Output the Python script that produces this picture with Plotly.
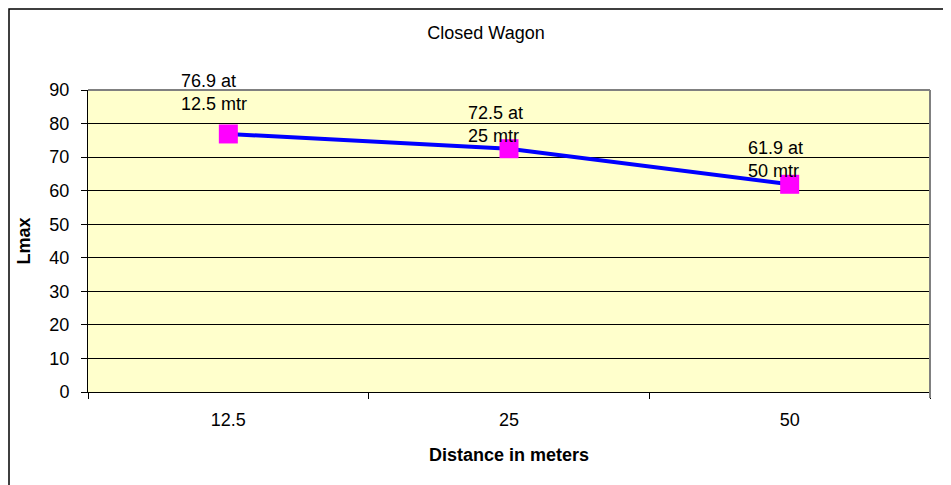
import plotly.graph_objects as go

distances = ["12.5", "25", "50"]
lmax = [76.9, 72.5, 61.9]
point_labels = ["76.9 at<br>12.5 mtr", "72.5 at<br>25 mtr", "61.9 at<br>50 mtr"]
y_ticks = [0, 10, 20, 30, 40, 50, 60, 70, 80, 90]

FONT = "Liberation Sans, Arial, sans-serif"
FS = 18

fig = go.Figure(
    data=[go.Scatter(
        x=distances,
        y=lmax,
        mode="lines+markers",
        line=dict(color="#0000FF", width=4),
        marker=dict(symbol="square", size=19, color="#FF00FF"),
        showlegend=False,
        hoverinfo="x+y",
    )],
)

# data labels sit above each point, first one nudged higher like the original
label_yshift = [18, 1, 1]
annotations = []
for i, (y, t, ys) in enumerate(zip(lmax, point_labels, label_yshift)):
    annotations.append(dict(
        x=i, y=y, xref="x", yref="y",
        text=t, showarrow=False,
        xanchor="center", yanchor="bottom", align="left",
        xshift=-14, yshift=ys,
        font=dict(family=FONT, size=FS, color="black"),
    ))

# page body has an 8px margin, so the figure is a bit smaller than the window
W, H = 943, 477
fig.update_layout(
    width=W,
    height=H,
    margin=dict(l=80, r=21, t=82, b=93),
    paper_bgcolor="white",
    plot_bgcolor="#FFFFCC",
    font=dict(family=FONT, size=FS, color="black"),
    title=dict(
        text="Closed Wagon",
        x=478 / W, xanchor="center",
        y=1 - 25 / H, yanchor="middle",
        font=dict(family=FONT, size=FS, color="black"),
    ),
    xaxis=dict(
        type="category",
        range=[-0.5, 2.5],
        tickson="boundaries",
        ticks="outside",
        ticklen=6,
        tickcolor="black",
        tickangle=0,
        showline=True,
        linecolor="black",
        linewidth=1,
        showgrid=False,
        ticklabelstandoff=11,
        title=dict(text="<b>Distance in meters</b>", standoff=19,
                   font=dict(family=FONT, size=FS)),
    ),
    yaxis=dict(
        range=[0, 90],
        tickvals=y_ticks,
        ticks="outside",
        ticklen=6,
        tickcolor="black",
        showline=True,
        linecolor="black",
        linewidth=1,
        showgrid=True,
        gridcolor="black",
        gridwidth=1,
        zeroline=False,
        ticklabelstandoff=8,
        title=dict(text="<b>Lmax</b>", standoff=14,
                   font=dict(family=FONT, size=FS)),
    ),
    annotations=annotations,
    shapes=[
        # grey top/right edges of the plot area
        dict(type="line", xref="paper", yref="paper", x0=0, x1=1, y0=1, y1=1,
             line=dict(color="#808080", width=2), layer="above"),
        dict(type="line", xref="paper", yref="paper", x0=1, x1=1, y0=-0.02, y1=1,
             line=dict(color="#808080", width=2), layer="above"),
        # outer chart border (only top/left visible in the frame)
        dict(type="rect", xref="paper", yref="paper",
             x0=-79 / 842, x1=2, y0=-1, y1=1 + 81 / 302,
             line=dict(color="black", width=1.5), layer="above"),
    ],
)

fig.write_html("out.html")
